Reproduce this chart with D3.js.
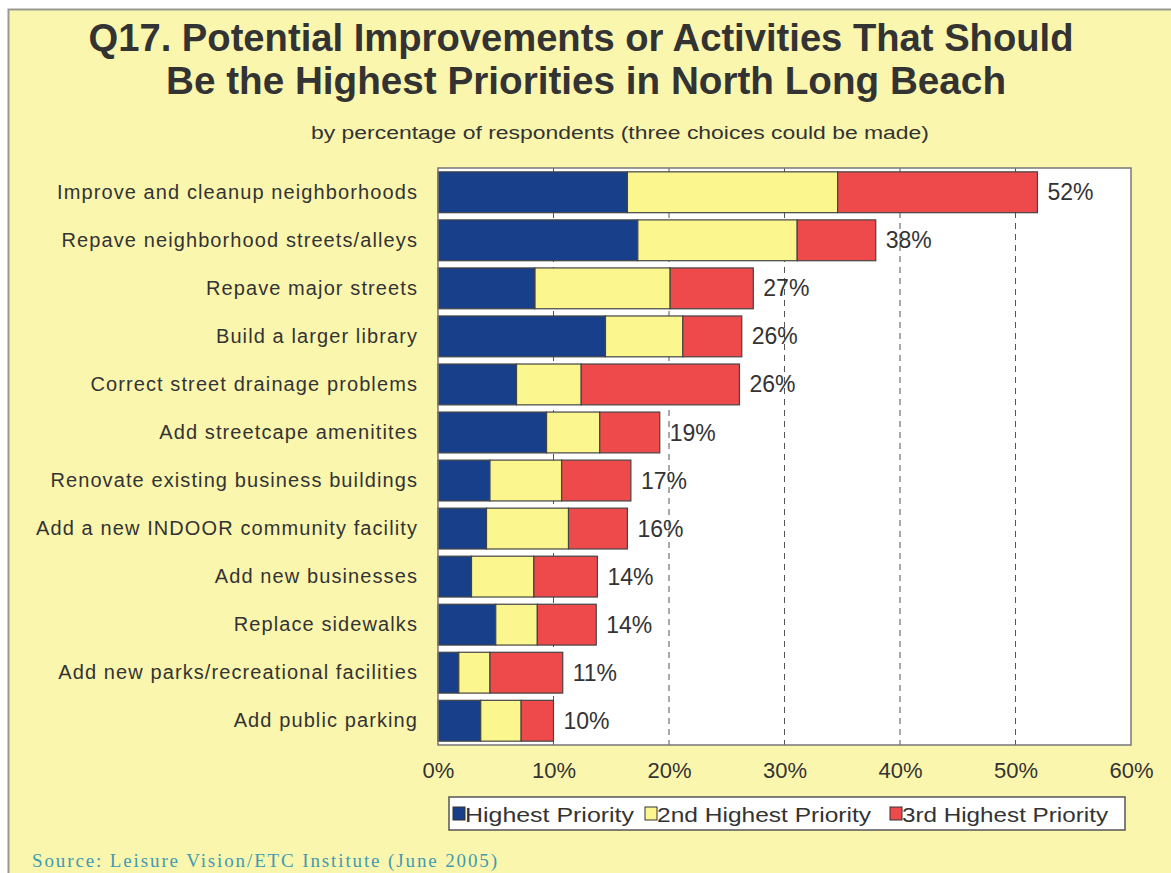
<!DOCTYPE html>
<html>
<head>
<meta charset="utf-8">
<script src="https://cdn.jsdelivr.net/npm/d3@7"></script>
<style>
  body { margin: 0; background: #fff; }
  svg { display: block; }
</style>
</head>
<body>
<div id="chart"></div>
<script>
// data
var categories = [
  "Improve and cleanup neighborhoods",
  "Repave neighborhood streets/alleys",
  "Repave major streets",
  "Build a larger library",
  "Correct street drainage problems",
  "Add streetcape amenitites",
  "Renovate existing business buildings",
  "Add a new INDOOR community facility",
  "Add new businesses",
  "Replace sidewalks",
  "Add new parks/recreational facilities",
  "Add public parking"
];
var highest = [16.4, 17.3, 8.4, 14.5, 6.8, 9.4, 4.5, 4.2, 2.9, 5.0, 1.8, 3.7];
var second  = [18.2, 13.8, 11.7, 6.7, 5.6, 4.6, 6.2, 7.1, 5.4, 3.6, 2.7, 3.5];
var third   = [17.3, 6.8, 7.2, 5.1, 13.7, 5.2, 6.0, 5.1, 5.5, 5.1, 6.3, 2.8];
var totals  = ["52%", "38%", "27%", "26%", "26%", "19%", "17%", "16%", "14%", "14%", "11%", "10%"];
var seriesNames = ["Highest Priority", "2nd Highest Priority", "3rd Highest Priority"];
var xTicks = [0, 10, 20, 30, 40, 50, 60];

var width = 1171, height = 873;
var colors = ["#173f8a", "#fbf78e", "#ee4a4c"];
var textCol = "#333";

var svg = d3.select("#chart").append("svg")
    .attr("width", width)
    .attr("height", height);

// page background + frame
svg.append("rect").attr("x", 8).attr("y", 9).attr("width", width - 8).attr("height", height - 9)
    .attr("fill", "#fbf6ad");
svg.append("path").attr("d", "M8.5," + height + "V9.5H" + width)
    .attr("fill", "none").attr("stroke", "#9a9a90").attr("stroke-width", 2);

// titles
var title = svg.append("g")
    .attr("font-family", "'Liberation Sans',Arial,sans-serif")
    .attr("font-weight", "bold")
    .attr("fill", textCol)
    .attr("text-anchor", "middle");
title.append("text").attr("x", 581).attr("y", 51).attr("font-size", 39)
    .attr("textLength", 985).attr("lengthAdjust", "spacingAndGlyphs")
    .text("Q17. Potential Improvements or Activities That Should");
title.append("text").attr("x", 586).attr("y", 94).attr("font-size", 39)
    .attr("textLength", 840).attr("lengthAdjust", "spacingAndGlyphs")
    .text("Be the Highest Priorities in North Long Beach");

svg.append("text").attr("x", 620).attr("y", 139)
    .attr("text-anchor", "middle")
    .attr("font-family", "'Liberation Sans',Arial,sans-serif")
    .attr("font-size", 18).attr("fill", textCol)
    .attr("textLength", 618).attr("lengthAdjust", "spacingAndGlyphs")
    .text("by  percentage  of  respondents  (three  choices  could  be  made)");

// plot
var margin = {left: 438, right: 40, top: 168, bottom: 128};
var x = d3.scaleLinear().domain([0, 60]).range([margin.left, width - margin.right]);
var y = d3.scaleBand().domain(categories).range([margin.top, height - margin.bottom])
    .paddingInner(0.15).paddingOuter(0.08);

svg.append("rect")
    .attr("x", x(0)).attr("y", margin.top)
    .attr("width", x(60) - x(0)).attr("height", height - margin.bottom - margin.top)
    .attr("fill", "#fff");

// dashed gridlines
svg.append("g").selectAll("line")
    .data(xTicks.filter(function(d) { return d > 0 && d < 60; }))
  .enter().append("line")
    .attr("x1", function(d) { return x(d); }).attr("x2", function(d) { return x(d); })
    .attr("y1", margin.top).attr("y2", height - margin.bottom)
    .attr("stroke", "#555").attr("stroke-width", 1)
    .attr("stroke-dasharray", "6,5");

// stacked bars
var rows = categories.map(function(c, i) {
  return {cat: c, v: [highest[i], second[i], third[i]], total: totals[i]};
});
var stack = d3.stack().keys([0, 1, 2]).value(function(d, k) { return d.v[k]; });
var layers = stack(rows);

svg.append("g").selectAll("g")
    .data(layers)
  .enter().append("g")
    .attr("fill", function(d, i) { return colors[i]; })
  .selectAll("rect")
    .data(function(d) { return d; })
  .enter().append("rect")
    .attr("x", function(d) { return x(d[0]); })
    .attr("y", function(d) { return y(d.data.cat); })
    .attr("width", function(d) { return x(d[1]) - x(d[0]); })
    .attr("height", y.bandwidth())
    .attr("stroke", "#444").attr("stroke-width", 1.2);

// total labels
svg.append("g").selectAll("text")
    .data(layers[2])
  .enter().append("text")
    .attr("x", function(d) { return x(d[1]) + 10; })
    .attr("y", function(d) { return y(d.data.cat) + y.bandwidth() / 2; })
    .attr("dy", "0.35em")
    .attr("font-family", "'Liberation Sans',Arial,sans-serif")
    .attr("font-size", 23).attr("fill", textCol)
    .text(function(d) { return d.data.total; });

// plot border
svg.append("rect")
    .attr("x", x(0)).attr("y", margin.top)
    .attr("width", x(60) - x(0)).attr("height", height - margin.bottom - margin.top)
    .attr("fill", "none").attr("stroke", "#777").attr("stroke-width", 1.5);

// category axis
var yAxis = svg.append("g")
    .attr("transform", "translate(" + x(0) + ",0)")
    .call(d3.axisLeft(y).tickSize(0).tickPadding(20));
yAxis.select(".domain").remove();
yAxis.selectAll("text")
    .attr("font-family", "'Liberation Sans',Arial,sans-serif")
    .attr("font-size", 20).attr("letter-spacing", 1.1).attr("fill", textCol);

// value axis
var xAxis = svg.append("g")
    .attr("transform", "translate(0," + (height - margin.bottom) + ")")
    .call(d3.axisBottom(x).tickValues(xTicks).tickSize(0).tickPadding(17)
      .tickFormat(function(d) { return d + "%"; }));
xAxis.select(".domain").remove();
xAxis.selectAll("text")
    .attr("font-family", "'Liberation Sans',Arial,sans-serif")
    .attr("font-size", 22).attr("fill", textCol);

// legend
var legend = svg.append("g").attr("transform", "translate(449,797)");
legend.append("rect").attr("width", 676).attr("height", 33)
    .attr("fill", "#fff").attr("stroke", "#555").attr("stroke-width", 1.5);
var legX = [4, 196, 441];
var legW = [169, 214, 206];
var items = legend.selectAll("g.item")
    .data(seriesNames)
  .enter().append("g")
    .attr("class", "item")
    .attr("transform", function(d, i) { return "translate(" + legX[i] + ",0)"; });
items.append("rect")
    .attr("y", 10).attr("width", 12).attr("height", 13)
    .attr("fill", function(d, i) { return colors[i]; })
    .attr("stroke", "#333").attr("stroke-width", 1);
items.append("text")
    .attr("x", 12).attr("y", 25)
    .attr("font-family", "'Liberation Sans',Arial,sans-serif")
    .attr("font-size", 21).attr("fill", textCol)
    .attr("textLength", function(d, i) { return legW[i]; })
    .attr("lengthAdjust", "spacingAndGlyphs")
    .text(function(d) { return d; });

// source
svg.append("text").attr("x", 32).attr("y", 867)
    .attr("font-family", "'Liberation Serif','DejaVu Serif',serif")
    .attr("font-size", 19).attr("fill", "#3f9bb3")
    .attr("textLength", 465).attr("lengthAdjust", "spacing")
    .text("Source:  Leisure Vision/ETC Institute (June 2005)");
</script>
</body>
</html>
